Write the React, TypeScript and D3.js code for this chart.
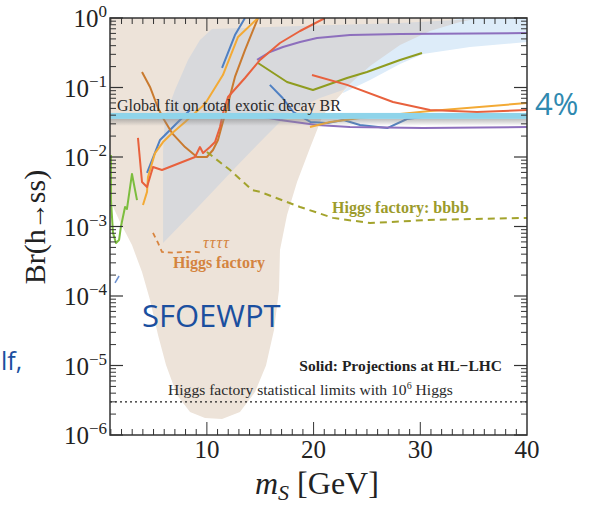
import React from "react";
import * as d3 from "d3";

// [m_S in GeV, Br(h->ss)]
const sfoewptRegion = [
  [0.92, 1], [0.92, 0.0024], [1.86, 0.00116], [2.98, 0.00054], [3.92, 0.000221],
  [4.67, 8.75e-5], [5.42, 2.75e-5], [6.17, 1.02e-5], [7.2, 3.77e-6], [8.42, 2.14e-6],
  [9.82, 1.76e-6], [11.42, 1.7e-6], [13.1, 2.14e-6], [14.51, 4.16e-6], [15.54, 1.0e-5],
  [16.29, 3.24e-5], [16.76, 1.22e-4], [16.85, 4.59e-4], [17.51, 1.46e-3], [18.45, 4.37e-3],
  [19.66, 0.0135], [20.88, 0.0402], [22.76, 0.086], [25.29, 0.233], [28.1, 0.452],
  [30.91, 0.742], [33.72, 1],
];
const lightBlueRegion = [
  [22.76, 0.086], [25.29, 0.233], [28.1, 0.452], [30.91, 0.742], [33.72, 1], [40, 1],
  [40, 0.452], [34.66, 0.383], [30.25, 0.303], [28.1, 0.218], [25.29, 0.128], [22.76, 0.0833],
];
const grayRegion = [
  [5.89, 0.00058], [5.89, 0.012], [6.07, 0.0376], [7.01, 0.092], [8.23, 0.249], [9.35, 0.483],
  [10.48, 0.694], [18.73, 0.767], [28.1, 0.847], [35.13, 0.967], [33.72, 0.876], [30.91, 0.65],
  [28.1, 0.409], [25.29, 0.204], [22.76, 0.092], [20.6, 0.0706], [17.79, 0.0444],
  [15.45, 0.0194], [12.63, 0.00695], [9.35, 0.00204],
];

const blueLow = [[4.39, 0.0059], [5.61, 0.0176], [7.2, 0.0309], [8.42, 0.0475]];
const blueHigh = [[11.42, 0.191], [12.63, 0.569], [13.57, 1]];
const blueRight = [
  [15.9, 0.109], [17.1, 0.0706], [18.1, 0.0444], [19.7, 0.0319], [21.3, 0.0309],
  [22.8, 0.0341], [24.35, 0.0289], [26.9, 0.0261], [28.75, 0.0352], [30.9, 0.0389], [40, 0.039],
];
const blueTiny = [[1.39, 0.000154], [1.77, 0.000194]];
const yellowLeft = [
  [4.01, 0.00204], [4.39, 0.00315], [4.48, 0.00516], [5.14, 0.0114], [5.89, 0.0164],
  [6.73, 0.022], [7.95, 0.0319], [9.82, 0.0579], [11.5, 0.151], [12.92, 0.533], [14.79, 1],
];
const yellowRight = [[19.66, 0.027], [21.54, 0.0319], [24.35, 0.0364], [30.91, 0.0459], [40, 0.0598]];
const brown = [
  [3.92, 0.167], [4.67, 0.102], [5.42, 0.0507], [5.89, 0.0364], [6.73, 0.0221], [7.95, 0.0139],
  [9.07, 0.01], [10.0, 0.01], [10.57, 0.0126], [11.04, 0.0176], [11.42, 0.0289], [11.88, 0.0507],
  [12.63, 0.142], [13.57, 0.346], [14.79, 1],
];
const redLeft = [
  [3.54, 0.0188], [3.92, 0.00437], [4.39, 0.0037], [4.95, 0.00718], [5.79, 0.0065], [8.89, 0.01],
  [9.35, 0.0139], [9.64, 0.0114], [10.29, 0.0139], [10.76, 0.0164], [11.23, 0.027], [11.51, 0.043],
  [11.98, 0.073], [13.57, 0.137], [14.98, 0.249], [16.85, 0.437], [18.73, 0.65], [21.07, 1],
];
const redRight = [[19.85, 0.151], [23.13, 0.109], [27.44, 0.0618], [30.91, 0.0475], [35.31, 0.0444], [40, 0.0475]];
const purpleHigh = [
  [14.7, 0.249], [15.9, 0.324], [17.13, 0.383], [18.73, 0.452], [20.32, 0.516], [23.41, 0.569],
  [28.1, 0.588], [40, 0.608],
];
const purpleLow = [[14.79, 0.0389], [16.85, 0.0341], [20.32, 0.0289], [23.41, 0.027], [30.25, 0.0261], [40, 0.027]];
const olive = [[14.79, 0.225], [17.51, 0.12], [19.94, 0.092], [23.13, 0.137], [25.0, 0.167], [28.1, 0.249], [30.16, 0.314]];
const lightGreen = [
  [1.01, 0.0107], [1.01, 0.0024], [1.2, 0.00081], [1.48, 0.00058], [1.77, 0.00064], [1.95, 0.00101],
  [2.33, 0.00191], [2.51, 0.00179], [2.98, 0.0057], [3.45, 0.0024],
];
const bbbbFactory = [
  [10.0, 0.0118], [12.17, 0.0065], [14.23, 0.00335], [14.98, 0.00315], [18.73, 0.00191],
  [21.82, 0.00133], [25.29, 0.00112], [30.63, 0.00124], [40, 0.00133],
];
const tautauFactory = [[4.95, 0.00081], [5.42, 0.00058], [5.79, 0.00043], [6.73, 0.00042], [7.95, 0.00043], [8.89, 0.00043], [9.64, 0.00042]];

const globalFitBR = 0.039;
const statLimitBR = 3e-6;
const xMajorTicks = [10, 20, 30, 40];
const yDecades = [-6, -5, -4, -3, -2, -1, 0];

const solidSeries = [
  { data: blueLow, color: "#4f80c3" },
  { data: blueHigh, color: "#4f80c3" },
  { data: blueRight, color: "#4f80c3" },
  { data: purpleHigh, color: "#8d6fbd" },
  { data: purpleLow, color: "#8d6fbd" },
  { data: olive, color: "#8f9c1f" },
  { data: lightGreen, color: "#7cbd3e" },
  { data: brown, color: "#c97a2f" },
  { data: yellowLeft, color: "#f3aa35" },
  { data: yellowRight, color: "#f3aa35" },
  { data: redLeft, color: "#e8613d" },
  { data: redRight, color: "#e8613d" },
];

const serif = "'Liberation Serif', 'Times New Roman', serif";
const sans = "'Open Sans', 'Noto Sans', sans-serif";

export default function App() {
  const left = 110, right = 527, top = 18, bottom = 435;
  const x = d3.scaleLinear().domain([0.92, 40]).range([left, right]);
  const y = d3.scaleLog().domain([1e-6, 1]).range([bottom, top]);
  const line = d3.line<number[]>().x(d => x(d[0])).y(d => y(d[1]));
  const poly = (pts: number[][]) => line(pts) + "Z";

  const xMinor = d3.range(1, 40);
  const yMinor: number[] = [];
  yDecades.slice(0, -1).forEach(e => {
    for (let k = 2; k <= 9; k++) yMinor.push(k * Math.pow(10, e));
  });
  const axisColor = "#333";

  return (
    <svg width={590} height={506} style={{ position: "absolute", left: 0, top: 0, display: "block" }}>
      <defs>
        <linearGradient id="shadow" x1="0" y1="0" x2="0" y2="1">
          <stop offset="0" stopColor="#888" stopOpacity={0.55} />
          <stop offset="1" stopColor="#888" stopOpacity={0} />
        </linearGradient>
        <clipPath id="plot">
          <rect x={left} y={top} width={right - left} height={bottom - top} />
        </clipPath>
      </defs>
      <rect width={590} height={506} fill="#fff" />

      <g clipPath="url(#plot)">
        <path d={poly(sfoewptRegion)} fill="#ede3d9" />
        <path d={poly(lightBlueRegion)} fill="#ddecf9" />
        <path d={poly(grayRegion)} fill="#d8d9dc" />

        {solidSeries.map((s, i) => (
          <path key={i} d={line(s.data) || ""} fill="none" stroke={s.color} strokeWidth={2} strokeLinejoin="round" />
        ))}
        <path d={line(blueTiny) || ""} fill="none" stroke="#6b8fcf" strokeWidth={1.5} />
        <path d={line(bbbbFactory) || ""} fill="none" stroke="#a3a32c" strokeWidth={2} strokeDasharray="7,5" />
        <path d={line(tautauFactory) || ""} fill="none" stroke="#d8843e" strokeWidth={1.8} strokeDasharray="5,4" />

        <rect x={left} y={y(globalFitBR) + 3} width={right - left} height={7} fill="url(#shadow)" />
        <rect x={left} y={y(globalFitBR) - 3} width={right - left} height={6} fill="#8fd4ea" />

        <line x1={left} x2={right} y1={y(statLimitBR)} y2={y(statLimitBR)} stroke="#222" strokeWidth={1.2} strokeDasharray="2,3" />
      </g>

      {/* frame and ticks */}
      <rect x={left} y={top} width={right - left} height={bottom - top} fill="none" stroke={axisColor} strokeWidth={1.5} />
      {xMinor.map(v => (
        <g key={"xm" + v} stroke={axisColor} strokeWidth={1}>
          <line x1={x(v)} x2={x(v)} y1={bottom} y2={bottom - (v % 10 === 0 ? 13 : 6)} />
          <line x1={x(v)} x2={x(v)} y1={top} y2={top + (v % 10 === 0 ? 13 : 6)} />
        </g>
      ))}
      {yMinor.map((v, i) => (
        <g key={"ym" + i} stroke={axisColor} strokeWidth={1}>
          <line x1={left} x2={left + 6} y1={y(v)} y2={y(v)} />
          <line x1={right} x2={right - 6} y1={y(v)} y2={y(v)} />
        </g>
      ))}
      {yDecades.map(e => (
        <g key={"yd" + e} stroke={axisColor} strokeWidth={1.2}>
          <line x1={left} x2={left + 13} y1={y(Math.pow(10, e))} y2={y(Math.pow(10, e))} />
          <line x1={right} x2={right - 13} y1={y(Math.pow(10, e))} y2={y(Math.pow(10, e))} />
        </g>
      ))}

      {/* tick labels */}
      {yDecades.map(e => (
        <text key={"yl" + e} x={107} y={y(Math.pow(10, e)) + 9} textAnchor="end" fontFamily={serif} fontSize={25} fill="#222">
          10<tspan dy={-10} fontSize={17}>{e === 0 ? "0" : "\u2212" + -e}</tspan>
        </text>
      ))}
      {xMajorTicks.map(v => (
        <text key={"xl" + v} x={x(v)} y={458} textAnchor="middle" fontFamily={serif} fontSize={25} fill="#222">{v}</text>
      ))}

      {/* axis titles */}
      <text transform="translate(45,227) rotate(-90)" textAnchor="middle" fontFamily={serif} fontSize={30} fill="#222">
        Br(h<tspan fontSize={28} dx={-1}>→</tspan><tspan dx={-1}>ss)</tspan>
      </text>
      <text x={255} y={494} fontFamily={serif} fontSize={32} fill="#222">
        <tspan fontStyle="italic">m</tspan>
        <tspan fontStyle="italic" fontSize={22} dy={6}>S</tspan>
        <tspan dy={-6}> [GeV]</tspan>
      </text>

      {/* annotations */}
      <text x={117} y={111} fontFamily={serif} fontSize={16} fill="#2a2a2a">Global fit on total exotic decay BR</text>
      <text x={332} y={213} fontFamily={serif} fontSize={16} fontWeight="bold" fill="#9c9b2b">Higgs factory: bbbb</text>
      <text x={203} y={248} fontFamily={serif} fontSize={16} fontStyle="italic" letterSpacing={1} fill="#d4843f">ττττ</text>
      <text x={173} y={268} fontFamily={serif} fontSize={16} fontWeight="bold" fill="#d4843f">Higgs factory</text>
      <text x={502} y={371} textAnchor="end" fontFamily={serif} fontSize={15.5} fontWeight="bold" fill="#222">Solid: Projections at HL−LHC</text>
      <text x={168} y={395} fontFamily={serif} fontSize={15.6} fill="#2a2a2a">
        Higgs factory statistical limits with 10<tspan dy={-6} fontSize={10}>6</tspan><tspan dy={6}> Higgs</tspan>
      </text>

      <text x={535} y={115} fontFamily={sans} fontSize={31} fill="#2f89b0">4%</text>
      <text x={142} y={327} fontFamily={sans} fontSize={31} fill="#1b4f9f">SFOEWPT</text>
      <text x={1} y={370} fontFamily={sans} fontSize={25} fill="#1b4f9f">lf,</text>
    </svg>
  );
}
